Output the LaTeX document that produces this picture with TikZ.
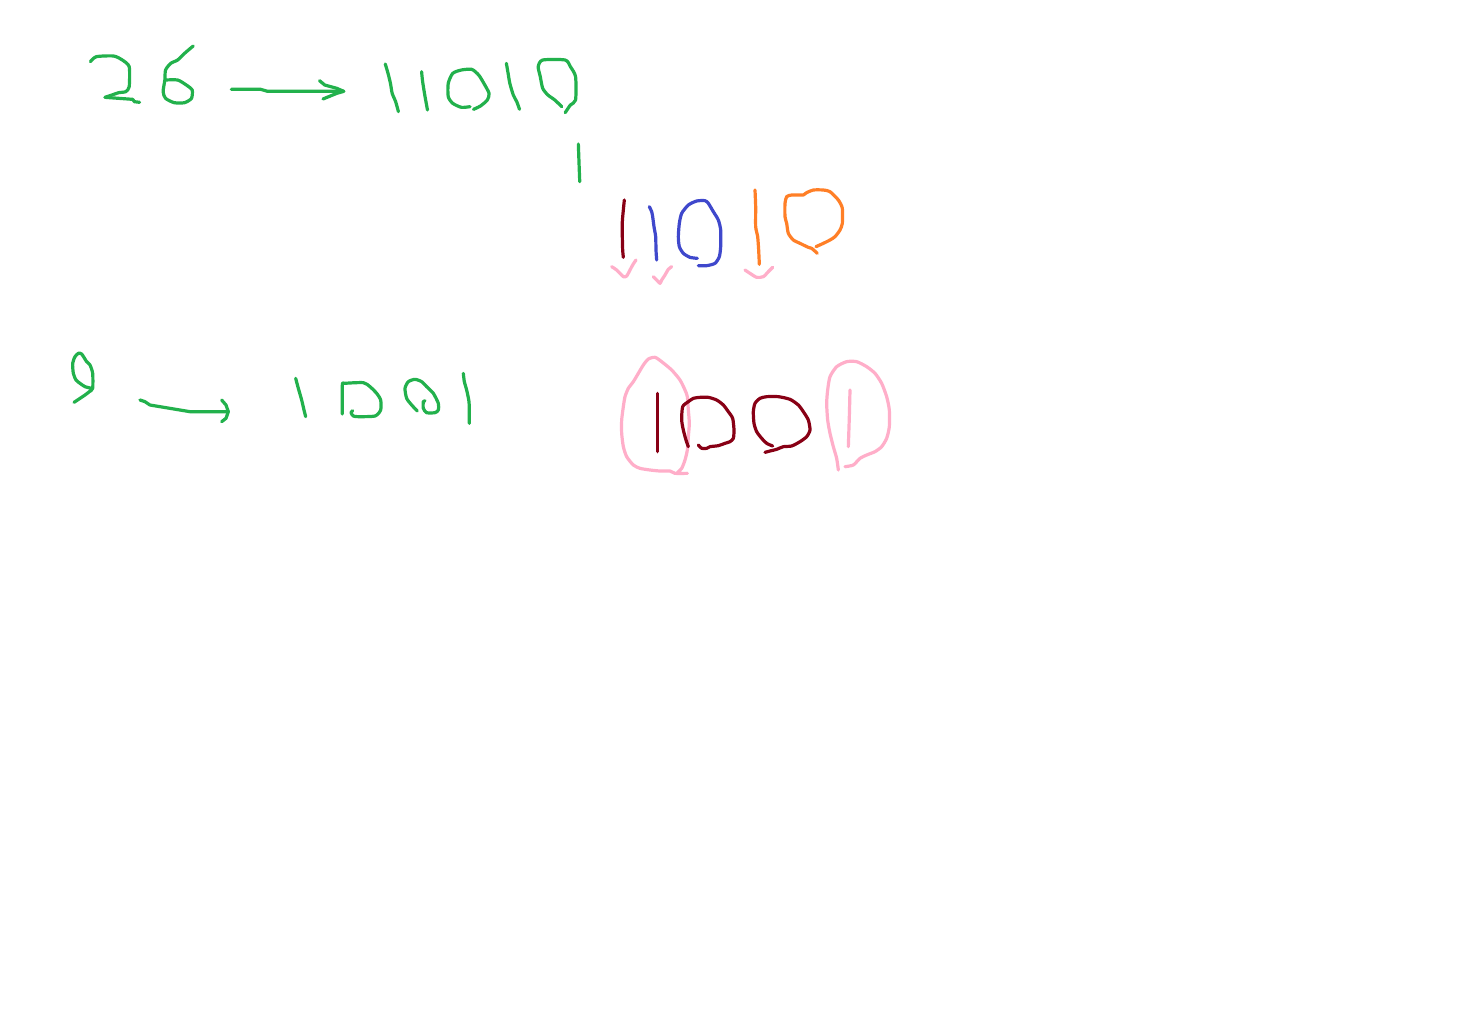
\documentclass[tikz,border=0pt]{standalone}
\usepackage{tikz}

\definecolor{paintgreen}{RGB}{34,177,76}
\definecolor{paintorange}{RGB}{255,127,39}
\definecolor{paintred}{RGB}{136,0,21}
\definecolor{paintblue}{RGB}{63,72,204}
\definecolor{paintpink}{RGB}{255,174,201}

\tikzset{
	pen/.style={line width=1.6pt, line cap=round, line join=round},
	greenpen/.style={pen, paintgreen},
	redpen/.style={pen, paintred},
	bluepen/.style={pen, paintblue},
	orangepen/.style={pen, paintorange},
	pinkpen/.style={pen, paintpink}
}

\begin{document}
\begin{tikzpicture}[x=0.5pt, y=-0.5pt]
	\useasboundingbox[fill=white] (0,0) rectangle (1484,1024);

	% 26 -> 11010
	\begin{scope}[shift={(60,30)}, xscale=1/2.89, yscale=1/3]
		\draw[greenpen] plot[smooth, tension=0.4] coordinates {(88,95) (105,80) (155,78) (180,90) (200,110) (200,170) (190,185) (170,188) (150,195) (130,202)};
		\draw[greenpen] (130,202) -- (210,208) -- (215,215) -- (230,217);
		\draw[greenpen] plot[smooth, tension=0.4] coordinates {(385,48) (360,70) (340,90) (320,100) (305,120) (303,150) (298,185) (305,205) (330,218) (360,218) (380,205) (382,180) (365,165) (340,150) (305,150)};
		\draw[greenpen] (495,178) -- (580,178) -- (600,184) -- (820,184);
		\draw[greenpen] (750,152) -- (765,165) -- (800,175) -- (820,184) -- (800,190) -- (760,207);
		\draw[greenpen] plot[smooth, tension=0.4] coordinates {(940,102) (948,130) (955,160) (960,190) (970,215) (978,245)};
		\draw[greenpen] plot[smooth, tension=0.4] coordinates {(1045,125) (1048,155) (1055,200) (1062,240)};
		\draw[greenpen] plot[smooth, tension=0.4] coordinates {(1185,230) (1160,232) (1135,220) (1122,200) (1122,160) (1135,130) (1160,120) (1190,118) (1210,135) (1225,160) (1240,190) (1235,210) (1215,228) (1195,238)};
		\draw[greenpen] plot[smooth, tension=0.4] coordinates {(1290,100) (1295,130) (1300,160) (1310,195) (1320,215) (1328,238)};
		\draw[greenpen] plot[smooth, tension=0.4] coordinates {(1450,230) (1430,210) (1410,195) (1395,175) (1388,140) (1382,110) (1395,90) (1460,90) (1475,110) (1490,140) (1490,210) (1475,225) (1460,248)};
		\draw[greenpen] plot[smooth, tension=0.4] coordinates {(1498,342) (1500,400) (1502,455)};
	\end{scope}

	% 11010 split into colours
	\begin{scope}[shift={(590,170)}, scale=1/3]
		\draw[redpen] plot[smooth, tension=0.4] coordinates {(103,90) (100,120) (97,155) (97,200) (98,240) (100,262)};
		\draw[bluepen] plot[smooth, tension=0.4] coordinates {(178,110) (185,125) (188,140) (192,170) (197,200) (198,240) (200,270)};
		\draw[bluepen] plot[smooth, tension=0.4] coordinates {(322,265) (300,262) (280,250) (268,230) (265,200) (268,160) (275,130) (295,105) (320,93) (345,92) (355,100) (370,125) (385,150) (392,180) (392,230) (388,260) (375,280) (350,287) (325,287)};
		\draw[orangepen] plot[smooth, tension=0.4] coordinates {(495,60) (497,110) (497,170) (503,200) (506,240) (508,283)};
		\draw[orangepen] plot[smooth, tension=0.4] coordinates {(682,250) (665,235) (655,232) (630,220) (610,210) (595,190) (590,160) (585,140) (585,100) (590,80) (605,75) (640,75) (650,68) (670,60) (700,60) (720,65) (745,90) (757,115) (757,160) (750,180) (735,200) (720,210) (700,220) (678,230)};
		% pink ticks
		\draw[pinkpen] plot[smooth, tension=0.4] coordinates {(65,290) (80,300) (100,320) (110,318) (120,300) (128,285) (138,270)};
		\draw[pinkpen] plot[smooth, tension=0.4] coordinates {(190,320) (200,330) (210,340) (215,330) (225,315) (235,298) (245,290)};
		\draw[pinkpen] plot[smooth, tension=0.4] coordinates {(465,300) (480,310) (500,322) (520,320) (535,305) (548,292)};
	\end{scope}

	% 9 -> 1001
	\begin{scope}[shift={(50,340)}, scale=1/3]
		\draw[greenpen] plot[smooth, tension=0.4] coordinates {(72,187) (90,175) (105,165) (118,155) (128,145) (128,100) (120,75) (110,65) (95,42) (85,40) (75,50) (68,70) (70,100) (78,120) (90,130) (105,140) (125,145)};
		\draw[greenpen] (270,180) -- (285,185) -- (300,195) -- (420,215) -- (535,215);
		\draw[greenpen] (515,180) -- (528,195) -- (535,215) -- (528,235) -- (515,245);
		\draw[greenpen] plot[smooth, tension=0.4] coordinates {(737,115) (745,145) (755,180) (762,210) (767,230)};
		\draw[greenpen] plot[smooth, tension=0.4] coordinates {(877,222) (877,135) (885,130) (940,128) (960,140) (980,160) (992,180) (992,210) (975,228) (925,230) (910,228) (903,218) (908,212)};
		\draw[greenpen] plot[smooth, tension=0.4] coordinates {(1102,213) (1085,195) (1070,175) (1065,145) (1075,125) (1095,118) (1115,125) (1130,140) (1150,160) (1165,190) (1165,210) (1155,218) (1130,218) (1120,205) (1120,185) (1125,182)};
		\draw[greenpen] plot[smooth, tension=0.4] coordinates {(1240,100) (1243,125) (1250,150) (1257,185) (1258,220) (1258,250)};
	\end{scope}

	% 1001 with circled ends
	\begin{scope}[shift={(600,340)}, scale=1/3]
		\draw[pinkpen] plot[smooth, tension=0.4] coordinates {(262,400) (225,400) (210,393) (180,393) (150,390) (120,385) (100,375) (80,350) (70,320) (65,280) (65,240) (70,200) (75,170) (85,145) (100,125) (115,100) (130,75) (145,57) (165,52) (185,65) (215,90) (240,120) (255,150) (262,170) (265,210) (268,250) (265,290) (262,330) (255,360) (245,385) (230,400)};
		\draw[redpen] (172,160) -- (172,335);
		\draw[redpen] plot[smooth, tension=0.4] coordinates {(295,315) (305,325) (320,325) (330,320) (355,317) (375,310) (390,305) (400,295) (402,270) (398,235) (385,215) (370,195) (350,180) (325,172) (300,172) (280,175) (265,185) (248,200) (245,240) (250,270) (258,300) (265,320)};
		\draw[redpen] plot[smooth, tension=0.4] coordinates {(518,318) (500,310) (485,295) (470,275) (462,250) (460,215) (465,190) (480,175) (500,170) (535,170) (570,178) (595,195) (610,215) (625,240) (630,270) (620,290) (600,305) (575,318) (550,320) (530,328) (510,333) (495,337)};
		\draw[pinkpen] plot[smooth, tension=0.4] coordinates {(715,390) (710,355) (700,320) (690,280) (683,240) (680,190) (683,150) (690,110) (710,80) (740,65) (770,65) (800,80) (825,100) (845,130) (860,170) (868,210) (868,260) (860,295) (845,320) (825,335) (800,345) (780,355) (760,375) (735,380)};
		\draw[pinkpen] plot[smooth, tension=0.4] coordinates {(750,150) (748,230) (745,320)};
	\end{scope}
\end{tikzpicture}
\end{document}
